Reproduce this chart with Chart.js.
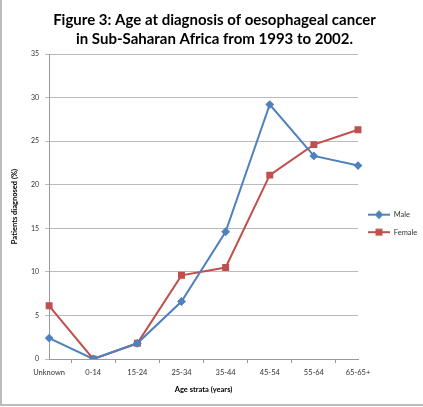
<!DOCTYPE html>
<html>
<head>
<meta charset="utf-8">
<script src="https://cdn.jsdelivr.net/npm/chart.js@4.4.0/dist/chart.umd.min.js"></script>
<style>
  html, body { margin: 0; padding: 0; background: #fff; }
  #wrap { position: relative; width: 421px; height: 404px; border-left: 2px solid #bbb; border-bottom: 2px solid #bbb; }
  #chart { display: block; }
</style>
</head>
<body>
<div id="wrap"><canvas id="chart" width="421" height="404"></canvas></div>
<script>
var age_labels = ["Unknown", "0-14", "15-24", "25-34", "35-44", "45-54", "55-64", "65-65+"];
var male_values = [2.4, 0, 1.8, 6.6, 14.6, 29.2, 23.3, 22.2];
var female_values = [6.1, 0, 1.8, 9.6, 10.5, 21.1, 24.6, 26.3];
var title_lines = ["Figure 3: Age at diagnosis of oesophageal cancer", "in Sub-Saharan Africa from 1993 to 2002."];

var font_family = "Lato, 'Open Sans', sans-serif";
var male_color = '#4F81BD';
var female_color = '#C0504D';

// small image for the legend: line with the marker in the middle (excel look)
this.makeLegendIcon = function(color, style, radius){
    var c = document.createElement('canvas');
    c.width = 22;
    c.height = 10;
    var g = c.getContext('2d');
    g.strokeStyle = color;
    g.lineWidth = 2;
    g.beginPath();
    g.moveTo(0, 5);
    g.lineTo(22, 5);
    g.stroke();
    g.fillStyle = color;
    g.strokeStyle = color;
    Chart.helpers.drawPoint(g, {pointStyle: style, radius: radius, borderWidth: 1}, 11, 5);
    return c;
}

var ctx = document.getElementById("chart").getContext("2d");
var chart1 = new Chart(ctx, {
    type: 'line',
    data: {
        labels: age_labels,
        datasets: [{
            label: 'Male',
            data: male_values,
            borderColor: male_color,
            backgroundColor: male_color,
            borderWidth: 2,
            pointStyle: 'rectRot',
            pointRadius: 3,
            pointHoverRadius: 3,
            tension: 0
        }, {
            label: 'Female',
            data: female_values,
            borderColor: female_color,
            backgroundColor: female_color,
            borderWidth: 2,
            pointStyle: 'rect',
            pointRadius: 3.5,
            pointHoverRadius: 3.5,
            tension: 0
        }]
    },
    options: {
        responsive: false,
        animation: false,
        layout: { padding: { left: 4, right: 0, top: 4, bottom: 10 } },
        plugins: {
            legend: {
                position: 'right',
                maxWidth: 65,
                title: { display: true, text: ' ', font: { size: 4 }, padding: 22 },
                labels: {
                    usePointStyle: true,
                    pointStyleWidth: 22,
                    padding: 10,
                    color: '#333',
                    font: { family: font_family, size: 7.5 },
                    generateLabels: function(chart){
                        return chart.data.datasets.map(function(ds, i){
                            return {
                                text: ds.label,
                                datasetIndex: i,
                                fontColor: '#333',
                                pointStyle: makeLegendIcon(ds.borderColor, ds.pointStyle, ds.pointRadius),
                                lineWidth: 0
                            };
                        });
                    }
                }
            },
            tooltip: { enabled: false },
            title: {
                display: true,
                text: title_lines,
                color: '#000',
                font: { family: font_family, size: 15, weight: 'bold', lineHeight: 1.3 },
                padding: { top: 6, bottom: 5 }
            }
        },
        scales: {
            x: {
                grid: { offset: true, drawOnChartArea: false, drawTicks: true, tickLength: 4, color: '#999' },
                border: { color: '#999' },
                ticks: { color: '#333', font: { family: font_family, size: 7.5 }, maxRotation: 0, padding: 5 },
                title: { display: true, text: 'Age strata (years)', color: '#000', font: { family: font_family, size: 7.5, weight: 'bold' }, padding: { top: 3, bottom: 0 } }
            },
            y: {
                min: 0,
                max: 35,
                ticks: { stepSize: 5, color: '#333', font: { family: font_family, size: 7 }, padding: 6 },
                grid: { color: '#bbb', tickLength: 4 },
                border: { color: '#999' },
                title: { display: true, text: 'Patients diagnosed (%)', color: '#000', font: { family: font_family, size: 7.5, weight: 'bold' }, padding: { bottom: 6 } }
            }
        }
    }
});
</script>
</body>
</html>
